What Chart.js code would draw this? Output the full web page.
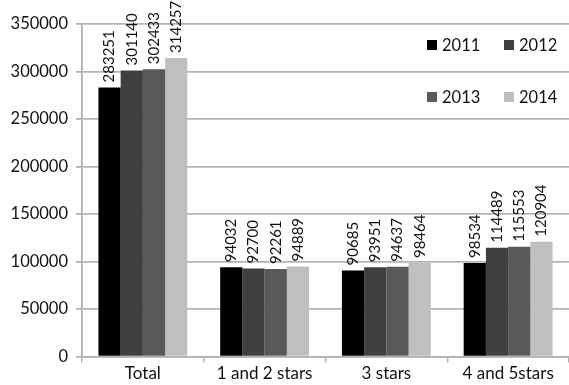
<!DOCTYPE html>
<html>
<head>
<meta charset="utf-8">
<script src="https://cdn.jsdelivr.net/npm/chart.js@4"></script>
<style>
  html, body { margin: 0; padding: 0; background: #fff; }
  #wrap { width: 569px; height: 385px; }
</style>
</head>
<body>
<div id="wrap"><canvas id="chart"></canvas></div>
<script>
const categories = ["Total", "1 and 2 stars", "3 stars", "4 and 5stars"];
const years = ["2011", "2012", "2013", "2014"];
const values2011 = [283251, 94032, 90685, 98534];
const values2012 = [301140, 92700, 93951, 114489];
const values2013 = [302433, 92261, 94637, 115553];
const values2014 = [314257, 94889, 98464, 120904];
const colors = ["#000000", "#404040", "#595959", "#bfbfbf"];

const FONT = "Lato, 'Open Sans', sans-serif";

// numbers written vertically above each bar
const barLabels = {
    id: "barLabels",
    afterDatasetsDraw(chart) {
        const ctx = chart.ctx;
        ctx.save();
        ctx.font = "15px " + FONT;
        ctx.fillStyle = "#111";
        ctx.textAlign = "left";
        ctx.textBaseline = "middle";
        chart.data.datasets.forEach((ds, i) => {
            chart.getDatasetMeta(i).data.forEach((bar, j) => {
                ctx.save();
                ctx.translate(bar.x, bar.y - 5);
                ctx.rotate(-Math.PI / 2);
                ctx.fillText(String(ds.data[j]), 0, 0);
                ctx.restore();
            });
        });
        ctx.restore();
    }
};

// two-row legend placed inside the plot, top right
const innerLegend = {
    id: "innerLegend",
    afterDraw(chart) {
        const ctx = chart.ctx;
        const spots = [[427, 45], [504, 45], [427, 97], [504, 97]];
        ctx.save();
        ctx.font = "16.5px " + FONT;
        ctx.textBaseline = "middle";
        ctx.textAlign = "left";
        chart.data.datasets.forEach((ds, i) => {
            const [x, y] = spots[i];
            ctx.fillStyle = ds.backgroundColor;
            ctx.fillRect(x, y - 5, 10, 10);
            ctx.fillStyle = "#111";
            ctx.fillText(ds.label, x + 15, y + 1);
        });
        ctx.restore();
    }
};

const seriesValues = [values2011, values2012, values2013, values2014];

new Chart(document.getElementById("chart"), {
    type: "bar",
    data: {
        labels: categories,
        datasets: years.map((y, i) => ({
            label: y,
            data: seriesValues[i],
            backgroundColor: colors[i],
            borderWidth: 0
        }))
    },
    options: {
        responsive: true,
        maintainAspectRatio: false,
        animation: false,
        categoryPercentage: 0.73,
        barPercentage: 1,
        layout: { padding: { top: 24, right: 0, left: 0, bottom: 0 } },
        plugins: {
            legend: { display: false },
            tooltip: { enabled: false }
        },
        scales: {
            x: {
                grid: {
                    offset: true,
                    drawOnChartArea: false,
                    drawTicks: true,
                    tickLength: 6,
                    color: "#b0b0b0",
                    lineWidth: 1.5
                },
                border: { color: "#b0b0b0", width: 1.5 },
                ticks: {
                    color: "#111",
                    font: { family: FONT, size: 17 },
                    padding: 1,
                    maxRotation: 0
                }
            },
            y: {
                min: 0,
                max: 350000,
                afterFit(scale) { scale.width = 82; },
                grid: {
                    color: "#b4b4b4",
                    lineWidth: 1.8,
                    tickLength: 6
                },
                border: { color: "#b0b0b0", width: 1.8 },
                ticks: {
                    stepSize: 50000,
                    color: "#111",
                    font: { family: FONT, size: 16.5 },
                    padding: 8,
                    callback: v => String(v)
                }
            }
        }
    },
    plugins: [barLabels, innerLegend]
});
</script>
</body>
</html>
